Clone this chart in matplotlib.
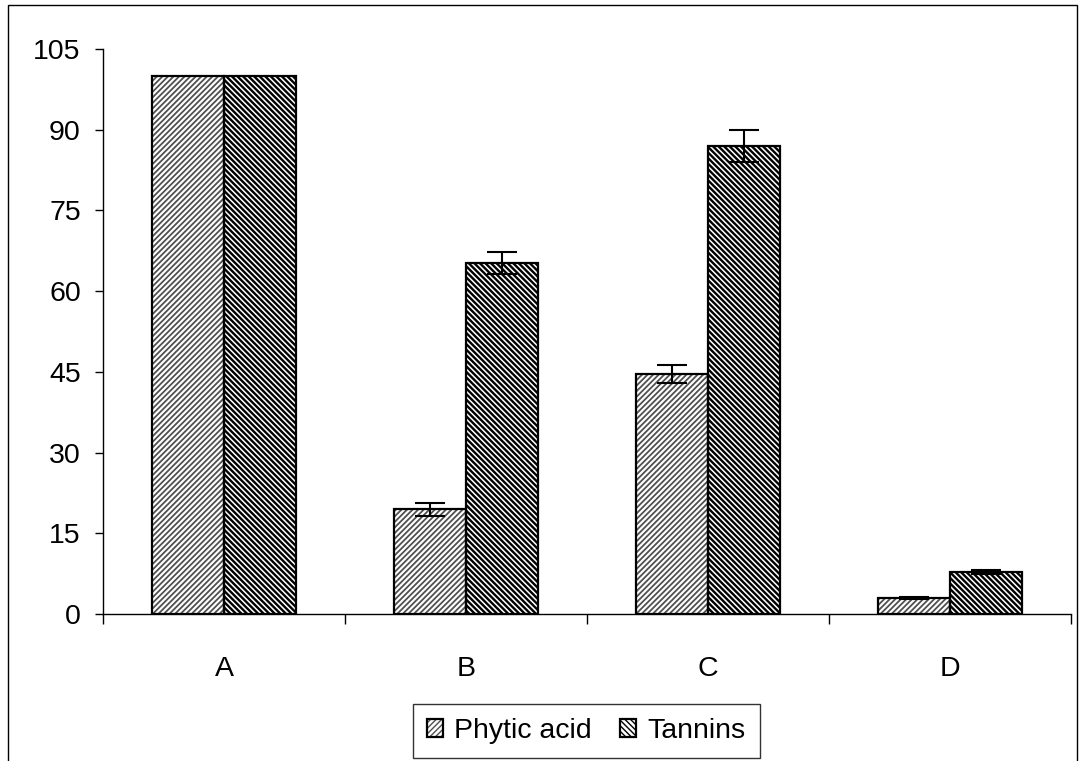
import numpy as np
import matplotlib
matplotlib.use("Agg")
import matplotlib.pyplot as plt
from matplotlib.patches import Rectangle

plt.rcParams['font.family'] = ['Liberation Sans', 'DejaVu Sans']
plt.rcParams['font.size'] = 20.5

categories = ['A', 'B', 'C', 'D']
phytic = [100, 19.5, 44.6, 3.0]
phytic_err = [0, 1.2, 1.7, 0.15]
tannins = [100, 65.2, 87.0, 7.8]
tannins_err = [0, 2.0, 3.0, 0.3]
yticks = [0, 15, 30, 45, 60, 75, 90, 105]

fig = plt.figure(figsize=(10.84, 7.61), dpi=100)
ax = fig.add_axes([0.095, 0.1932, 0.893, 0.7424])

x = np.arange(len(categories)) + 0.5
w = 0.2975

def hatched(xs, vals, hatch, hcolor, hlw):
    bars = ax.bar(xs, vals, w, color='white', edgecolor=hcolor, hatch=hatch,
                  linewidth=0, zorder=2)
    for b in bars:
        if hasattr(b, 'set_hatch_linewidth'):
            b.set_hatch_linewidth(hlw)
    outline = ax.bar(xs, vals, w, fill=False, edgecolor='black',
                     linewidth=1.6, zorder=3)
    return bars, outline

p_h, p_o = hatched(x - w / 2, phytic, '//////', '#505050', 1.3)
t_h, t_o = hatched(x + w / 2, tannins, '\\\\\\\\\\\\', 'black', 1.7)

ax.errorbar(x[1:] - w / 2, phytic[1:], yerr=phytic_err[1:], fmt='none',
            ecolor='black', elinewidth=1.5, capsize=11, capthick=1.5, zorder=4)
ax.errorbar(x[1:] + w / 2, tannins[1:], yerr=tannins_err[1:], fmt='none',
            ecolor='black', elinewidth=1.5, capsize=11, capthick=1.5, zorder=4)

ax.set_xlim(0, 4)
ax.set_ylim(0, 105)
ax.set_yticks(yticks)
ax.tick_params(axis='y', direction='out', length=6, width=1, pad=10)
ax.set_xticks(x)
ax.set_xticklabels(categories)
ax.tick_params(axis='x', which='major', length=0, pad=30)
ax.set_xticks(np.arange(0, 5), minor=True)
ax.tick_params(axis='x', which='minor', direction='out', length=7.5, width=1)
for s in ['top', 'right']:
    ax.spines[s].set_visible(False)
for s in ['left', 'bottom']:
    ax.spines[s].set_linewidth(1)

leg = fig.legend([(p_h[0], p_o[0]), (t_h[0], t_o[0])], ['Phytic acid', 'Tannins'],
                 loc='center', bbox_to_anchor=(0.541, 0.0394), ncol=2,
                 frameon=True, fancybox=False, handlelength=0.55, handleheight=0.55,
                 handletextpad=0.4, columnspacing=1.0, borderpad=0.5,
                 borderaxespad=0)
leg.get_frame().set_edgecolor('black')
leg.get_frame().set_linewidth(1)

fig.add_artist(Rectangle((0.0074, -0.1), 0.9861, 1.0934, transform=fig.transFigure,
                         fill=False, edgecolor='black', linewidth=1))

fig.savefig('out.png', dpi=100)
